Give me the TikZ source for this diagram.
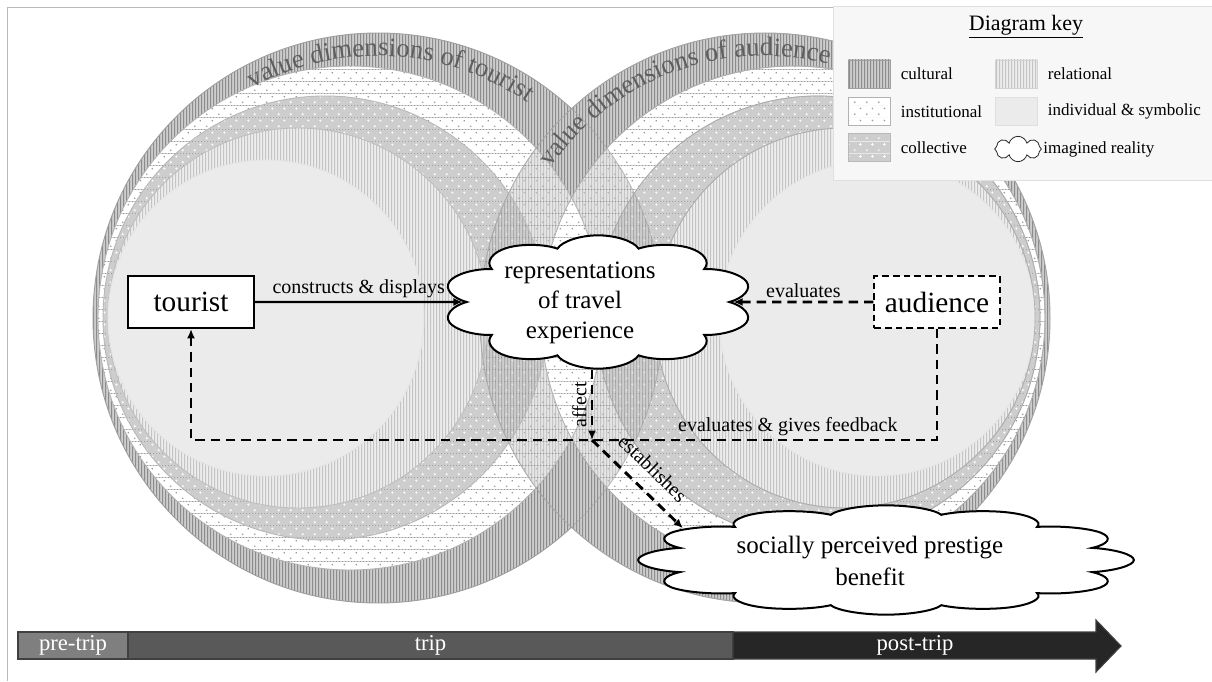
\documentclass[tikz,border=0pt]{standalone}
\usepackage{fontspec}
\setmainfont{Liberation Serif}
\usetikzlibrary{patterns,shapes.symbols,arrows.meta,decorations.text,positioning}

\definecolor{cultdark}{HTML}{8C8C8C}
\definecolor{cultlight}{HTML}{CDCDCD}
\definecolor{reldark}{HTML}{C4C4C4}
\definecolor{rellight}{HTML}{EDEDED}
\definecolor{instdot}{HTML}{9E9E9E}
\definecolor{collbg}{HTML}{CDCDCD}
\definecolor{indivfill}{HTML}{EBEBEB}
\definecolor{arctext}{HTML}{5F5F5F}
\definecolor{pregray}{HTML}{7F7F7F}
\definecolor{tripgray}{HTML}{595959}
\definecolor{postgray}{HTML}{262626}

\pgfdeclarepatterninherentlycolored{culturalpat}{\pgfpointorigin}{\pgfqpoint{2.5pt}{2.5pt}}{\pgfqpoint{2.5pt}{2.5pt}}{%
  \pgfsetfillcolor{cultlight}
  \pgfpathrectangle{\pgfpointorigin}{\pgfqpoint{2.5pt}{2.5pt}}
  \pgfusepath{fill}
  \pgfsetfillcolor{cultdark}
  \pgfpathrectangle{\pgfpointorigin}{\pgfqpoint{1.1pt}{2.5pt}}
  \pgfusepath{fill}}
\pgfdeclarepatterninherentlycolored{relationalpat}{\pgfpointorigin}{\pgfqpoint{2.5pt}{2.5pt}}{\pgfqpoint{2.5pt}{2.5pt}}{%
  \pgfsetfillcolor{rellight}
  \pgfpathrectangle{\pgfpointorigin}{\pgfqpoint{2.5pt}{2.5pt}}
  \pgfusepath{fill}
  \pgfsetfillcolor{reldark}
  \pgfpathrectangle{\pgfpointorigin}{\pgfqpoint{1.1pt}{2.5pt}}
  \pgfusepath{fill}}
\pgfdeclarepatterninherentlycolored{institutionalpat}{\pgfpointorigin}{\pgfqpoint{9pt}{9pt}}{\pgfqpoint{9pt}{9pt}}{%
  \pgfsetfillcolor{white}
  \pgfpathrectangle{\pgfpointorigin}{\pgfqpoint{9pt}{9pt}}
  \pgfusepath{fill}
  \pgfsetfillcolor{instdot}
  \pgfpathcircle{\pgfqpoint{2.25pt}{2.25pt}}{0.75pt}
  \pgfpathcircle{\pgfqpoint{6.75pt}{6.75pt}}{0.75pt}
  \pgfusepath{fill}}
\pgfdeclarepatterninherentlycolored{collectivepat}{\pgfpointorigin}{\pgfqpoint{9pt}{9pt}}{\pgfqpoint{9pt}{9pt}}{%
  \pgfsetfillcolor{collbg}
  \pgfpathrectangle{\pgfpointorigin}{\pgfqpoint{9pt}{9pt}}
  \pgfusepath{fill}
  \pgfsetfillcolor{white}
  \pgfpathrectangle{\pgfqpoint{1.25pt}{2pt}}{\pgfqpoint{2pt}{0.5pt}}
  \pgfpathrectangle{\pgfqpoint{2pt}{1.25pt}}{\pgfqpoint{0.5pt}{2pt}}
  \pgfpathrectangle{\pgfqpoint{5.75pt}{6.5pt}}{\pgfqpoint{2pt}{0.5pt}}
  \pgfpathrectangle{\pgfqpoint{6.5pt}{5.75pt}}{\pgfqpoint{0.5pt}{2pt}}
  \pgfusepath{fill}}

\newcommand\arcfont{\fontsize{20}{20}\selectfont\color{arctext}}

\tikzset{
  cultural/.style={pattern=culturalpat, draw=gray!75, line width=0.7pt},
  institutional/.style={pattern=institutionalpat, draw=gray!60, line width=0.7pt},
  collective/.style={pattern=collectivepat, draw=gray!55, line width=0.7pt},
  relational/.style={pattern=relationalpat, draw=gray!50, line width=0.7pt},
  individual/.style={fill=indivfill, draw=gray!20, line width=0.7pt},
  actor/.style={draw, line width=1.5pt, fill=white, minimum width=94pt, minimum height=39pt,
    inner sep=0pt, font=\fontsize{22}{26}\selectfont},
  imagined/.style={cloud, cloud ignores aspect, draw, line width=1.5pt, fill=white,
    inner sep=0pt, transform shape},
  cloudtext/.style={align=center, inner sep=0pt, font=\fontsize{18.75}{22.5}\selectfont},
  link/.style={line width=1.6pt, -{Latex[length=7pt,width=6pt]}},
  dashedlink/.style={link, line width=2.2pt, dash pattern=on 7pt off 4.5pt},
  edgelabel/.style={font=\fontsize{15}{17}\selectfont, inner sep=2pt},
  smalllabel/.style={font=\fontsize{15}{17}\selectfont, inner sep=3pt},
  phase/.style={draw=black!75, line width=0.8pt, text=white, inner sep=0pt, outer sep=0pt,
    minimum height=20.25pt, font=\fontsize{17}{19}\selectfont},
  keybox/.style={minimum width=32pt, minimum height=21pt, inner sep=0pt},
  keytext/.style={font=\fontsize{12.75}{14}\selectfont, inner sep=0pt}
}

\begin{document}
\begin{tikzpicture}[x=0.75pt,y=-0.75pt]
\useasboundingbox (0,0) rectangle (1212,681);
\draw[gray!55] (7,681) -- (7,7) -- (1212,7);

\foreach \cx/\r/\layer in {378/285/cultural,350/252/institutional,325/222/collective,298/190/relational,266/158/individual}
  \draw[\layer] (\cx,318) circle[radius=\r];
\foreach \cx/\r/\layer in {765/285/cultural,793/252/institutional,818/222/collective,845/190/relational,877/158/individual}
  \draw[\layer] (\cx,318) circle[radius=\r];

% where the two sets of value dimensions overlap
\begin{scope}
  \clip (765,318) circle[radius=285];
  \foreach \cx/\r/\cxi/\ri/\layer in {378/285/350/252/cultural,350/252/325/222/institutional,325/222/298/190/collective,298/190/266/158/relational}
    \path[\layer, fill opacity=0.5, draw opacity=0.6, even odd rule] (\cx,318) circle[radius=\r] (\cxi,318) circle[radius=\ri];
  \foreach \cx/\r in {765/285,793/252,818/222,845/190}
    \draw[gray!65, line width=0.5pt] (\cx,318) circle[radius=\r];
\end{scope}

\path[decorate, decoration={text along path, text align=center,
  text={|\arcfont|value dimensions of tourist}}]
  (378,318) ++(-127:262) arc[start angle=-127, end angle=-47, radius=262];
\path[decorate, decoration={text along path, text align=center,
  text={|\arcfont|value dimensions of audience}}]
  (765,318) ++(-150:262) arc[start angle=-150, end angle=-71, radius=262];

\node[actor] (tourist) at (191,302) {tourist};
\node[actor, dash pattern=on 5pt off 3pt] (audience) at (937,302) {audience};
\begin{scope}[shift={(598,302)}, xscale=2.34]
  \node[imagined, cloud puffs=10, minimum width=100pt, minimum height=100pt] (rep) at (0,0) {};
\end{scope}
\node[cloudtext] (reptext) at (580,303) {representations\\of travel\\experience};
\begin{scope}[shift={(886,560)}, xscale=4.48]
  \node[imagined, cloud puffs=12, minimum width=83pt, minimum height=82pt] (soc) at (0,0) {};
\end{scope}
\node[cloudtext, font=\fontsize{18.75}{24}\selectfont] (soctext) at (870,561) {socially perceived prestige\\benefit};

\coordinate (fbR) at (937,440);
\coordinate (fbL) at (191,440);
\coordinate (affect) at (592,440);

\draw[link] (tourist) -- node[above, edgelabel] {constructs \& displays} (rep);
\draw[dashedlink] (audience) -- node[above, edgelabel] {evaluates} (rep);
\draw[dashedlink] (audience.south) -- (fbR) -- node[pos=0.2, above, edgelabel] {evaluates \& gives feedback} (fbL) -- (tourist.south);
\draw[dashedlink] (rep.south -| affect) -- node[midway, rotate=90, above, smalllabel] {affect} (affect);
\draw[dashedlink] (affect) -- node[midway, sloped, above=7pt, smalllabel] {establishes} (soc.145);

\node[phase, fill=pregray, minimum width=82.5pt] (pre) at (73,645.5) {pre-trip};
\node[phase, fill=tripgray, minimum width=453.75pt, right=0pt of pre] (trip) {trip};
\draw[draw=black!75, line width=0.8pt, fill=postgray] (trip.north east) -- (1096,632) -- (1096,620)
  -- (1121,646) -- (1096,672) -- (1096,659) -- (trip.south east) -- cycle;
\node[text=white, font=\fontsize{17}{19}\selectfont] (post) at (915,645.5) {post-trip};

\draw[draw=gray!25, fill=gray!6] (833,6) rectangle (1213,180);
\node[font=\fontsize{16.5}{18}\selectfont] (keytitle) at (1026,27) {\underline{Diagram key}};
\node[keybox, cultural] (kcult) at (869.5,74) {};
\node[keybox, institutional] (kinst) at (869.5,111.5) {};
\node[keybox, collective] (kcoll) at (869.5,147.5) {};
\node[keybox, relational, draw=gray!35] (krel) at (1016.5,74) {};
\node[keybox, individual, draw=gray!25] (kind) at (1016.5,111.5) {};
\node[cloud, cloud ignores aspect, cloud puffs=8, draw=gray!30!black, line width=0.6pt, fill=white,
  minimum width=35pt, minimum height=19pt, inner sep=0pt] (kcloud) at (1018,149) {};
\node[keytext, right=7pt of kcult] (lcult) {cultural};
\node[keytext, right=7pt of kinst] (linst) {institutional};
\node[keytext, right=7pt of kcoll] (lcoll) {collective};
\node[keytext, right=7pt of krel] (lrel) {relational};
\node[keytext, right=7pt of kind] (lind) {individual \& symbolic};
\node[keytext, right=1pt of kcloud] (lcloud) {imagined reality};
\end{tikzpicture}
\end{document}
